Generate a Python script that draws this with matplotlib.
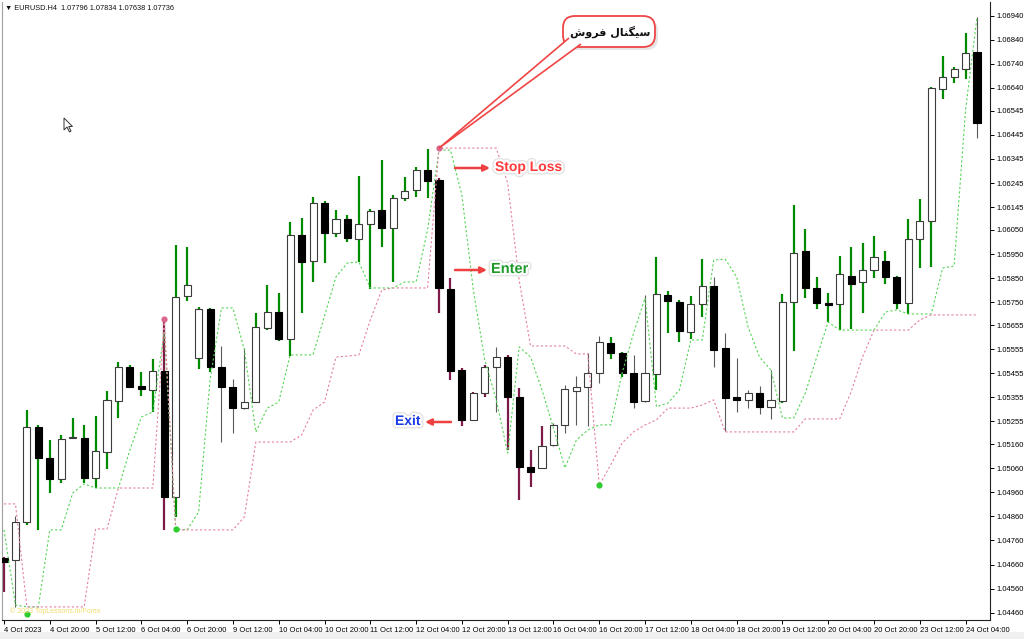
import matplotlib
matplotlib.use("Agg")
import matplotlib.pyplot as plt
import matplotlib.patheffects as pe
from matplotlib.patches import FancyBboxPatch, Polygon, Rectangle
import numpy as np

plt.rcParams["font.family"] = ["Liberation Sans", "DejaVu Sans"]

# EURUSD H4 - candele
opens = [1.04687, 1.04679, 1.04837, 1.05231, 1.05103, 1.05015, 1.05186, 1.05186, 1.05020, 1.05128,
         1.05339, 1.05481, 1.05402, 1.05385, 1.05464, 1.04941, 1.05776, 1.05518, 1.05722, 1.05481,
         1.05398, 1.05310, 1.05335, 1.05643, 1.05709, 1.05597, 1.06029, 1.05921, 1.06162, 1.06037,
         1.06096, 1.06012, 1.06075, 1.06133, 1.06058, 1.06183, 1.06216, 1.06299, 1.06257, 1.05805,
         1.05468, 1.05261, 1.05373, 1.05481, 1.05522, 1.05356, 1.05065, 1.05061, 1.05157, 1.05240,
         1.05381, 1.05398, 1.05456, 1.05580, 1.05539, 1.05456, 1.05339, 1.05452, 1.05780, 1.05751,
         1.05626, 1.05742, 1.05817, 1.05560, 1.05356, 1.05344, 1.05373, 1.05315, 1.05339, 1.05751,
         1.05963, 1.05809, 1.05747, 1.05742, 1.05859, 1.05834, 1.05884, 1.05921, 1.05855, 1.05747,
         1.06012, 1.06087, 1.06636, 1.06685, 1.06719, 1.06789]
highs = [1.04691, 1.04862, 1.05302, 1.05240, 1.05177, 1.05198, 1.05269, 1.05240, 1.05277, 1.05381,
         1.05502, 1.05489, 1.05460, 1.05514, 1.05680, 1.05988, 1.05979, 1.05730, 1.05726, 1.05568,
         1.05431, 1.05560, 1.05705, 1.05821, 1.05788, 1.06083, 1.06100, 1.06187, 1.06170, 1.06133,
         1.06112, 1.06274, 1.06137, 1.06341, 1.06195, 1.06270, 1.06312, 1.06386, 1.06266, 1.05850,
         1.05477, 1.05377, 1.05489, 1.05564, 1.05531, 1.05393, 1.05136, 1.05236, 1.05248, 1.05406,
         1.05443, 1.05539, 1.05610, 1.05605, 1.05543, 1.05531, 1.05780, 1.05938, 1.05796, 1.05759,
         1.05776, 1.05929, 1.05855, 1.05622, 1.05518, 1.05385, 1.05402, 1.05468, 1.05784, 1.06154,
         1.06054, 1.05855, 1.05788, 1.05942, 1.05979, 1.05996, 1.06025, 1.05963, 1.05859, 1.06096,
         1.06179, 1.06644, 1.06773, 1.06727, 1.06868, 1.06935]
lows = [1.04546, 1.04484, 1.04824, 1.04804, 1.04957, 1.04999, 1.05182, 1.04999, 1.04978, 1.05057,
        1.05269, 1.05393, 1.05360, 1.05294, 1.04804, 1.04858, 1.05755, 1.05472, 1.05460, 1.05169,
        1.05207, 1.05306, 1.05331, 1.05634, 1.05589, 1.05526, 1.05705, 1.05834, 1.05913, 1.06021,
        1.06000, 1.05917, 1.05805, 1.05979, 1.05834, 1.06170, 1.06187, 1.06183, 1.05705, 1.05427,
        1.05236, 1.05256, 1.05356, 1.05294, 1.05136, 1.04928, 1.04982, 1.05057, 1.05153, 1.05207,
        1.05240, 1.05236, 1.05414, 1.05514, 1.05439, 1.05310, 1.05335, 1.05385, 1.05622, 1.05585,
        1.05597, 1.05688, 1.05481, 1.05215, 1.05294, 1.05310, 1.05285, 1.05265, 1.05331, 1.05547,
        1.05767, 1.05722, 1.05668, 1.05634, 1.05639, 1.05705, 1.05850, 1.05826, 1.05722, 1.05701,
        1.05892, 1.05896, 1.06594, 1.06660, 1.06677, 1.06432]
closes = [1.04671, 1.04837, 1.05231, 1.05103, 1.05015, 1.05182, 1.05190, 1.05020, 1.05132, 1.05344,
          1.05481, 1.05398, 1.05389, 1.05464, 1.04941, 1.05772, 1.05821, 1.05722, 1.05481, 1.05398,
          1.05310, 1.05335, 1.05647, 1.05709, 1.05597, 1.06029, 1.05917, 1.06162, 1.06037, 1.06096,
          1.06017, 1.06075, 1.06129, 1.06058, 1.06183, 1.06212, 1.06299, 1.06253, 1.05809, 1.05464,
          1.05261, 1.05373, 1.05481, 1.05522, 1.05356, 1.05065, 1.05045, 1.05153, 1.05240, 1.05389,
          1.05398, 1.05456, 1.05585, 1.05539, 1.05456, 1.05335, 1.05456, 1.05784, 1.05755, 1.05630,
          1.05742, 1.05817, 1.05551, 1.05352, 1.05344, 1.05373, 1.05315, 1.05344, 1.05751, 1.05954,
          1.05809, 1.05747, 1.05738, 1.05867, 1.05826, 1.05884, 1.05938, 1.05855, 1.05747, 1.06012,
          1.06087, 1.06640, 1.06685, 1.06719, 1.06785, 1.06494]

# colore dello stoppino: g = verde, r = bordeaux, k = grigio
wick_colors = ("rkggggggggggggrggggkkkgggggggggggggggg"
               "rrrrrkrrrrkkkkkggkkgggggkkkkkkgggggggggggggggggk")

# linee dell'indicatore
green_line = [1.04804, 1.04492, 1.04484, 1.04484, 1.04804, 1.04804, 1.04957, 1.04995, 1.04978, 1.04978,
              1.04978, 1.05136, 1.05273, 1.05294, 1.05626, 1.04808, 1.04804, 1.04878, 1.05427, 1.05726,
              1.05726, 1.05551, 1.05211, 1.05310, 1.05335, 1.05531, 1.05531, 1.05531, 1.05693, 1.05855,
              1.05913, 1.05917, 1.05809, 1.05809, 1.05809, 1.05834, 1.05834, 1.06050, 1.06382, 1.06382,
              1.06195, 1.05801, 1.05510, 1.05344, 1.05123, 1.05564, 1.05522, 1.05385, 1.05227, 1.05061,
              1.05177, 1.05219, 1.05240, 1.05240, 1.05456, 1.05622, 1.05767, 1.05315, 1.05331, 1.05385,
              1.05593, 1.05593, 1.05925, 1.05929, 1.05855, 1.05647, 1.05522, 1.05468, 1.05269, 1.05269,
              1.05373, 1.05522, 1.05668, 1.05634, 1.05634, 1.05634, 1.05634, 1.05709, 1.05718, 1.05701,
              1.05701, 1.05701, 1.05892, 1.05900, 1.06548, 1.06935]
pink_line = [1.04912, 1.04912, 1.04484, 1.04484, 1.04484, 1.04484, 1.04484, 1.04484, 1.04808, 1.04808,
             1.04978, 1.04978, 1.04978, 1.04978, 1.05676, 1.04804, 1.04804, 1.04804, 1.04804, 1.04804,
             1.04804, 1.04858, 1.05169, 1.05169, 1.05169, 1.05169, 1.05198, 1.05302, 1.05335, 1.05522,
             1.05526, 1.05531, 1.05676, 1.05801, 1.05809, 1.05809, 1.05809, 1.05809, 1.06390, 1.06390,
             1.06390, 1.06390, 1.06390, 1.06390, 1.06245, 1.05842, 1.05568, 1.05568, 1.05568, 1.05568,
             1.05535, 1.05535, 1.04990, 1.05074, 1.05165, 1.05211, 1.05240, 1.05261, 1.05310, 1.05310,
             1.05310, 1.05323, 1.05344, 1.05211, 1.05211, 1.05211, 1.05211, 1.05211, 1.05211, 1.05211,
             1.05265, 1.05265, 1.05265, 1.05265, 1.05377, 1.05522, 1.05634, 1.05634, 1.05634, 1.05634,
             1.05676, 1.05697, 1.05697, 1.05697, 1.05697, 1.05697]

# segnali
buy_bars = [2, 15, 52]
buy_prices = [1.04455, 1.04808, 1.04990]
sell_bars = [14, 38]
sell_prices = [1.05680, 1.06390]

time_labels = ["4 Oct 2023", "4 Oct 20:00", "5 Oct 12:00", "6 Oct 04:00", "6 Oct 20:00",
               "9 Oct 12:00", "10 Oct 04:00", "10 Oct 20:00", "11 Oct 12:00", "12 Oct 04:00",
               "12 Oct 20:00", "13 Oct 12:00", "16 Oct 04:00", "16 Oct 20:00", "17 Oct 12:00",
               "18 Oct 04:00", "18 Oct 20:00", "19 Oct 12:00", "20 Oct 04:00", "20 Oct 20:00",
               "23 Oct 12:00", "24 Oct 04:00"]
price_ticks = [1.06940, 1.06840, 1.06740, 1.06640, 1.06545, 1.06445, 1.06345, 1.06245, 1.06145,
               1.06050, 1.05950, 1.05850, 1.05750, 1.05655, 1.05555, 1.05455, 1.05355, 1.05255,
               1.05160, 1.05060, 1.04960, 1.04860, 1.04760, 1.04660, 1.04560, 1.04460]

header = "\u25bc EURUSD.H4  1.07796 1.07834 1.07638 1.07736"
signal_text = "\ufeb5\ufeed\ufeae\ufed3 \ufedd\ufe8e\ufee8\ufb95\ufbff\ufeb3"  # سیگنال فروش

fig = plt.figure(figsize=(10.24, 6.39), dpi=100)
fig.patch.set_facecolor("white")
ax = fig.add_axes([2 / 1024, 19 / 639, 988 / 1024, 618 / 639])

x = np.arange(len(opens))
o = np.array(opens)
c = np.array(closes)
h = np.array(highs)
l = np.array(lows)
up = c >= o

wick_style = {"g": ("#008a00", 1.6), "r": ("#7d1b48", 1.6), "k": ("#5a5a5a", 0.8)}
for key, (col, lw) in wick_style.items():
    m = np.array([w == key for w in wick_colors])
    ax.vlines(x[m], l[m], h[m], color=col, linewidth=lw, zorder=2)

bottom = np.minimum(o, c)
height = np.maximum(np.abs(c - o), 0.00003)
ax.bar(x[up], height[up], bottom=bottom[up], width=0.62, facecolor="white",
       edgecolor="#3c3c3c", linewidth=0.8, zorder=3)
ax.bar(x[~up], height[~up], bottom=bottom[~up], width=0.62, facecolor="black",
       edgecolor="black", linewidth=0.8, zorder=3)

ax.plot(x, green_line, color="#55d455", lw=0.8, ls=(0, (2, 2)), zorder=4)
ax.plot(x, pink_line, color="#e3819f", lw=0.8, ls=(0, (2, 2)), zorder=4)
ax.scatter(buy_bars, buy_prices, s=20, color="#2ecc2e", zorder=5, linewidths=0)
ax.scatter(sell_bars, sell_prices, s=20, color="#d9668c", zorder=5, linewidths=0)

ax.set_xlim(-0.175, 86.135)
ax.set_ylim(1.044297, 1.069969)
ax.set_xticks(range(0, 85, 4))
ax.set_xticklabels(time_labels)
for lbl in ax.get_xticklabels():
    lbl.set_horizontalalignment("left")
ax.yaxis.tick_right()
ax.set_yticks(price_ticks)
ax.set_yticklabels([f"{p:.5f}" for p in price_ticks])
ax.tick_params(axis="x", direction="out", length=3, pad=2, labelsize=5.5, width=0.7)
ax.tick_params(axis="y", direction="out", length=3, pad=1.5, labelsize=5.5, width=0.7)
ax.spines["top"].set_visible(False)
ax.spines["left"].set_color("#a0a0a0")
for s in ("right", "bottom"):
    ax.spines[s].set_color("#222222")
    ax.spines[s].set_linewidth(0.8)

# livello per le annotazioni, in pixel
ov = fig.add_axes([0, 0, 1, 1], zorder=10)
ov.set_xlim(0, 1024)
ov.set_ylim(639, 0)
ov.axis("off")
ov.patch.set_alpha(0)

ov.add_patch(Rectangle((0, 632), 1024, 7, facecolor="#f0f0f0", edgecolor="none"))
ov.text(5, 8, header, fontsize=5.3, va="center", ha="left", color="#111111")
ov.text(10, 611, "\u00a9 2023 TopLessons.in/Forex", fontsize=5, va="center", color="#f2dc6a")

# cursore del mouse
ov.add_patch(Polygon([(64, 118), (64, 130), (67, 127), (69.5, 132), (71, 131), (68.7, 126.5), (72.5, 126.5)],
                     closed=True, facecolor="white", edgecolor="#333333", linewidth=0.7))

# fumetto "segnale di vendita"
tip = ov.transData.inverted().transform(ax.transData.transform((sell_bars[1], sell_prices[1])))
ov.add_patch(FancyBboxPatch((566, 19), 92, 31, boxstyle="round,pad=0,rounding_size=12",
                            facecolor="#cccccc", edgecolor="none", alpha=0.5))
ov.add_patch(FancyBboxPatch((563, 16), 92, 31, boxstyle="round,pad=0,rounding_size=12",
                            facecolor="white", edgecolor="#f04545", linewidth=1.3))
ov.add_patch(Polygon([(569, 38), tuple(tip), (581, 44)], closed=False,
                     facecolor="white", edgecolor="#f04545", linewidth=1.2))
ov.text(610, 32, signal_text, fontsize=8, fontweight="bold", ha="center", va="center",
        family=["DejaVu Sans"], color="#111111")

glow = [pe.Stroke(linewidth=5, foreground="#e4e4e4"), pe.Stroke(linewidth=3, foreground="white"), pe.Normal()]
arrow_kw = dict(arrowstyle="-|>", color="#ee4040", lw=1.8, mutation_scale=9, shrinkA=0, shrinkB=0)

ov.annotate("", xy=(490, 168), xytext=(455, 168), arrowprops=arrow_kw)
ov.text(495, 167, "Stop Loss", fontsize=10, fontweight="bold", color="#ff3b3b",
        ha="left", va="center", path_effects=glow)

ov.annotate("", xy=(487, 270), xytext=(455, 270), arrowprops=arrow_kw)
ov.text(491, 269, "Enter", fontsize=10.5, fontweight="bold", color="#1f9a2a",
        ha="left", va="center", path_effects=glow)

ov.annotate("", xy=(425, 422), xytext=(451, 422), arrowprops=arrow_kw)
ov.text(395, 421, "Exit", fontsize=10, fontweight="bold", color="#1a3ae8",
        ha="left", va="center", path_effects=glow)

fig.savefig("out.png", dpi=100, facecolor="white")
